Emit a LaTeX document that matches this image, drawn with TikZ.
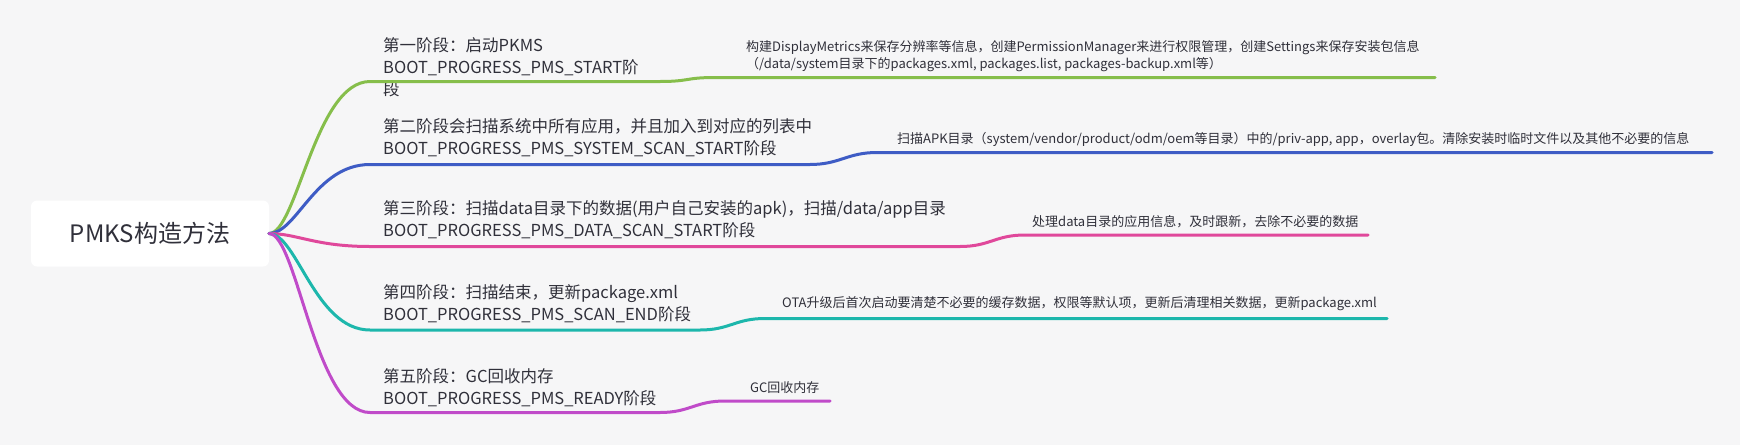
\documentclass[tikz,border=0pt]{standalone}
\usepackage{fontspec}
\setmainfont{Noto Sans CJK SC}
\definecolor{bg}{HTML}{F6F6F7}
\definecolor{txt}{HTML}{30303A}
\definecolor{cgreen}{HTML}{86BE4B}
\definecolor{cblue}{HTML}{3E5CC5}
\definecolor{cpink}{HTML}{E0489B}
\definecolor{cteal}{HTML}{1DB7AC}
\definecolor{cpurple}{HTML}{C04BC9}
\begin{document}
\begin{tikzpicture}[x=1pt,y=-1pt,
  rootbox/.style={fill=white,rounded corners=6pt,minimum width=238pt,minimum height=66pt,inner sep=0pt,text=txt,font=\fontsize{24}{28}\selectfont},
  stagetext/.style={anchor=west,inner sep=0pt,align=left,text=txt,font=\fontsize{16.5}{22}\selectfont},
  childtext/.style={anchor=west,inner sep=0pt,align=left,text=txt,font=\fontsize{13}{17}\selectfont},
  branch/.style={line width=3pt,line cap=round}]
\useasboundingbox[fill=bg] (0,0) rectangle (1740,445);

\node[rootbox] (root) at (150,233.5) {PMKS构造方法};

\node[stagetext] (s1) at (383,67.5) {第一阶段：启动PKMS\\BOOT\_PROGRESS\_PMS\_START阶\\段};
\node[stagetext] (s2) at (383,138) {第二阶段会扫描系统中所有应用，并且加入到对应的列表中\\BOOT\_PROGRESS\_PMS\_SYSTEM\_SCAN\_START阶段};
\node[stagetext] (s3) at (383,219.5) {第三阶段：扫描data目录下的数据(用户自己安装的apk)，扫描/data/app目录\\BOOT\_PROGRESS\_PMS\_DATA\_SCAN\_START阶段};
\node[stagetext] (s4) at (383,304) {第四阶段：扫描结束，更新package.xml\\BOOT\_PROGRESS\_PMS\_SCAN\_END阶段};
\node[stagetext] (s5) at (383,387.5) {第五阶段：GC回收内存\\BOOT\_PROGRESS\_PMS\_READY阶段};

\node[childtext] (c1) at (746,56.5) {构建DisplayMetrics来保存分辨率等信息，创建PermissionManager来进行权限管理，创建Settings来保存安装包信息\\（/data/system目录下的packages.xml, packages.list, packages-backup.xml等）};
\node[childtext] (c2) at (897,139) {扫描APK目录（system/vendor/product/odm/oem等目录）中的/priv-app, app，overlay包。清除安装时临时文件以及其他不必要的信息};
\node[childtext] (c3) at (1032,222) {处理data目录的应用信息，及时跟新，去除不必要的数据};
\node[childtext] (c4) at (782,304) {OTA升级后首次启动要清楚不必要的缓存数据，权限等默认项，更新后清理相关数据，更新package.xml};
\node[childtext] (c5) at (750,388) {GC回收内存};

\coordinate (o) at (269,233.5);
\coordinate (s1l) at (370,81.5);  \coordinate (s1r) at (660,81.5);
\coordinate (c1l) at (715,77.5);  \coordinate (c1r) at (1435,77.5);
\coordinate (s2l) at (370,164.5); \coordinate (s2r) at (810,164.5);
\coordinate (c2l) at (877,152.5); \coordinate (c2r) at (1712,152.5);
\coordinate (s3l) at (370,246.5); \coordinate (s3r) at (960,246.5);
\coordinate (c3l) at (1025,235);  \coordinate (c3r) at (1368,235);
\coordinate (s4l) at (370,330);   \coordinate (s4r) at (700,330);
\coordinate (c4l) at (765,318.5); \coordinate (c4r) at (1387,318.5);
\coordinate (s5l) at (370,412.5); \coordinate (s5r) at (660,412.5);
\coordinate (c5l) at (725,401);   \coordinate (c5r) at (830,401);

\draw[branch,cgreen] (o) .. controls +(28,0) and +(-55,0) .. (s1l) -- (s1r) .. controls +(30,0) and +(-30,0) .. (c1l) -- (c1r);
\draw[branch,cblue] (o) .. controls +(28,0) and +(-55,0) .. (s2l) -- (s2r) .. controls +(30,0) and +(-30,0) .. (c2l) -- (c2r);
\draw[branch,cpink] (o) .. controls +(28,0) and +(-55,0) .. (s3l) -- (s3r) .. controls +(30,0) and +(-30,0) .. (c3l) -- (c3r);
\draw[branch,cteal] (o) .. controls +(28,0) and +(-55,0) .. (s4l) -- (s4r) .. controls +(30,0) and +(-30,0) .. (c4l) -- (c4r);
\draw[branch,cpurple] (o) .. controls +(28,0) and +(-55,0) .. (s5l) -- (s5r) .. controls +(30,0) and +(-30,0) .. (c5l) -- (c5r);
\end{tikzpicture}
\end{document}
